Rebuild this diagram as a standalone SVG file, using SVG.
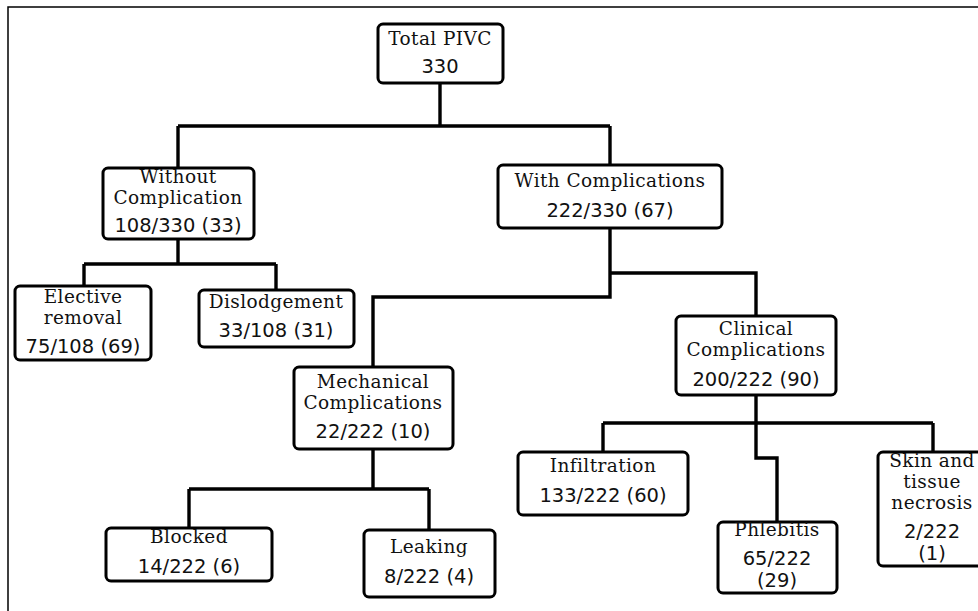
<svg xmlns="http://www.w3.org/2000/svg" width="978" height="611" viewBox="0 0 978 611">
<style>
.box{fill:#fff;stroke:#000;stroke-width:3}
.w{font-family:"DejaVu Serif","Liberation Serif",serif;font-size:18.5px;letter-spacing:0.4px;fill:#111;text-anchor:middle}
.n{font-family:"DejaVu Sans","Liberation Sans",sans-serif;font-size:19.5px;fill:#111;text-anchor:middle}
.c{fill:none;stroke:#000;stroke-width:3.4;stroke-linejoin:miter}
</style>
<rect x="0" y="0" width="978" height="611" fill="#fff"/>
<rect x="8" y="7" width="1000" height="700" fill="none" stroke="#000" stroke-width="1.5"/>
<g id="connectors">
<path class="c" d="M440,83 V126 M178,126 H610 M178,126 V168 M610,126 V165"/>
<path class="c" d="M178,239 V264 M84,264 H276 M84,264 V286 M276,264 V290"/>
<path class="c" d="M610,228 V297 H373 V367 M610,273 H756 V316"/>
<path class="c" d="M373,449 V489 M189,489 H429 M189,489 V528 M429,489 V530"/>
<path class="c" d="M756,395 V458 H777 V522 M603,423 H933 M603,423 V452 M933,423 V452"/>
</g>
<g id="total">
<rect class="box" x="378" y="24" width="125" height="59" rx="5"/>
<text class="w" x="440" y="45">Total PIVC</text>
<text class="n" x="440" y="73">330</text>
</g>
<g id="without">
<rect class="box" x="103" y="168" width="151" height="71" rx="5"/>
<text class="w" x="178" y="183">Without</text>
<text class="w" x="178" y="204">Complication</text>
<text class="n" x="178" y="232">108/330 (33)</text>
</g>
<g id="with">
<rect class="box" x="498" y="165" width="224" height="63" rx="5"/>
<text class="w" x="610" y="187">With Complications</text>
<text class="n" x="610" y="217">222/330 (67)</text>
</g>
<g id="elective">
<rect class="box" x="15" y="286" width="136" height="74" rx="5"/>
<text class="w" x="83" y="303">Elective</text>
<text class="w" x="83" y="324">removal</text>
<text class="n" x="83" y="353">75/108 (69)</text>
</g>
<g id="dislodgement">
<rect class="box" x="199" y="290" width="155" height="57" rx="5"/>
<text class="w" x="276" y="308">Dislodgement</text>
<text class="n" x="276" y="337">33/108 (31)</text>
</g>
<g id="mechanical">
<rect class="box" x="294" y="367" width="159" height="82" rx="5"/>
<text class="w" x="373" y="388">Mechanical</text>
<text class="w" x="373" y="409">Complications</text>
<text class="n" x="373" y="438">22/222 (10)</text>
</g>
<g id="clinical">
<rect class="box" x="676" y="316" width="160" height="79" rx="5"/>
<text class="w" x="756" y="335">Clinical</text>
<text class="w" x="756" y="356">Complications</text>
<text class="n" x="756" y="386">200/222 (90)</text>
</g>
<g id="blocked">
<rect class="box" x="106" y="528" width="166" height="53" rx="5"/>
<text class="w" x="189" y="543">Blocked</text>
<text class="n" x="189" y="573">14/222 (6)</text>
</g>
<g id="leaking">
<rect class="box" x="364" y="530" width="131" height="67" rx="5"/>
<text class="w" x="429" y="553">Leaking</text>
<text class="n" x="429" y="583">8/222 (4)</text>
</g>
<g id="infiltration">
<rect class="box" x="518" y="452" width="170" height="63" rx="5"/>
<text class="w" x="603" y="472">Infiltration</text>
<text class="n" x="603" y="502">133/222 (60)</text>
</g>
<g id="phlebitis">
<rect class="box" x="718" y="522" width="119" height="71" rx="5"/>
<text class="w" x="777" y="536">Phlebitis</text>
<text class="n" x="777" y="565">65/222</text>
<text class="n" x="777" y="587">(29)</text>
</g>
<g id="skin">
<rect class="box" x="878" y="452" width="130" height="114" rx="5"/>
<text class="w" x="932" y="467">Skin and</text>
<text class="w" x="932" y="488">tissue</text>
<text class="w" x="932" y="509">necrosis</text>
<text class="n" x="932" y="538">2/222</text>
<text class="n" x="932" y="560">(1)</text>
</g>
</svg>
